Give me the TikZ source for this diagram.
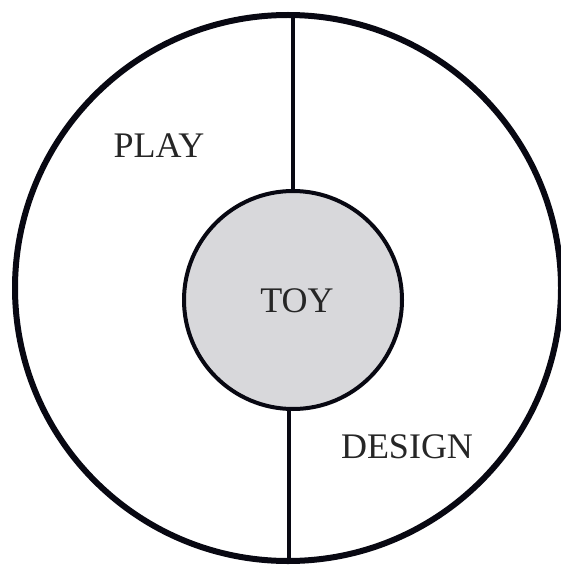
\documentclass[tikz,border=0pt]{standalone}
\usepackage{fontspec}
\setmainfont{Liberation Serif}
\definecolor{toygray}{RGB}{216,216,219}
\definecolor{ink}{RGB}{8,8,18}
\begin{document}
\begin{tikzpicture}[x=1pt,y=1pt,
  ring/.style={circle,draw=ink,line width=6pt,inner sep=0pt},
  core/.style={circle,draw=ink,line width=4pt,fill=toygray,inner sep=0pt},
  divider/.style={draw=ink,line width=4pt},
  lbl/.style={font=\fontsize{36}{40}\selectfont,text=black!85}]
\useasboundingbox (0,0) rectangle (561,-567);
\node[ring,minimum size=546pt] (outer) at (288,-288) {};
\node[core,minimum size=218pt] (toy) at (293,-300) {};
\node[lbl] (toylbl) at (297,-301) {TOY};
\node[lbl] (play) at (159,-146) {PLAY};
\node[lbl] (design) at (407,-447) {DESIGN};
\coordinate (top) at (293,-15);
\coordinate (bot) at (289,-561);
\draw[divider] (top) -- (toy.north -| top);
\draw[divider] (toy.south -| bot) -- (bot);
\end{tikzpicture}
\end{document}
